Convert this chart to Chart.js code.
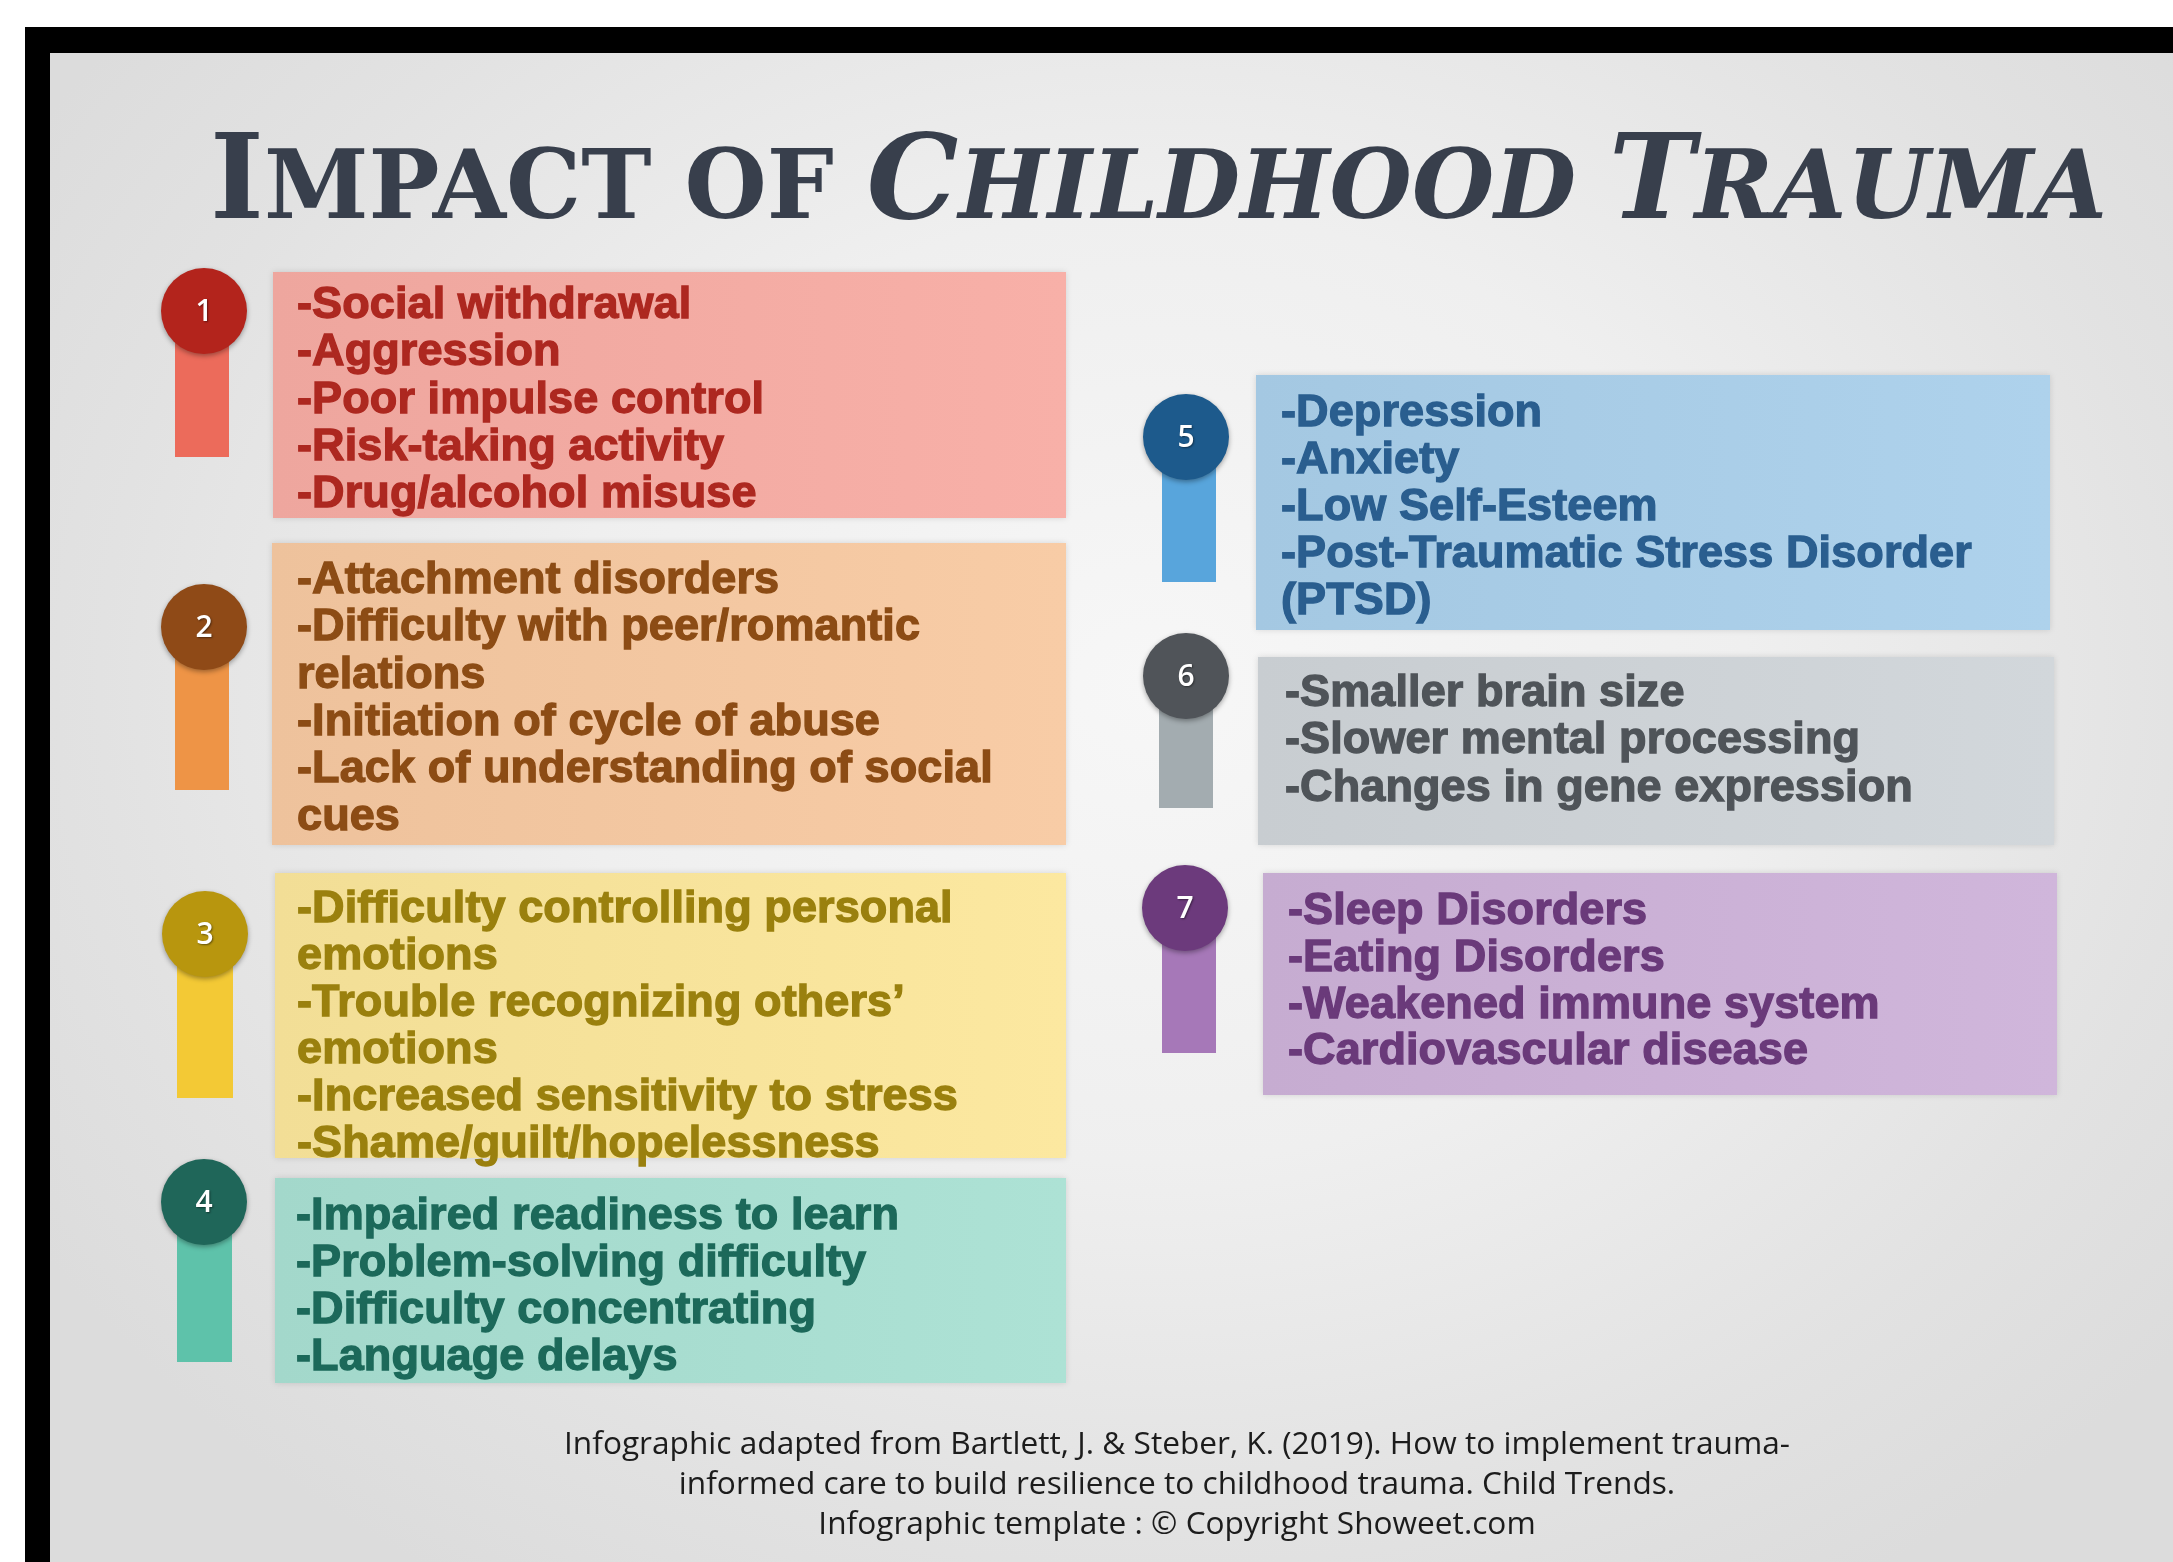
<!DOCTYPE html>
<html lang="en">
<head>
<meta charset="UTF-8">
<title>Impact of Childhood Trauma</title>
<script src="https://cdn.jsdelivr.net/npm/chart.js"></script>
<style>
  html, body { margin: 0; padding: 0; background: #fff; }
  #page { position: relative; width: 2173px; height: 1562px; overflow: hidden; background: #fff; }
  #frame { position: absolute; left: 25px; top: 27px; right: 0; bottom: 0; background: #000; }
  #sheet { position: absolute; left: 50px; top: 53px; right: 0; bottom: 0;
    background: radial-gradient(ellipse 62% 70% at 52% 42%, #f7f7f7 0%, #efefef 45%, #e2e2e2 80%, #dcdcdc 100%); }
  #board { position: absolute; left: 0; top: 0; }
  .txt { position: absolute; white-space: pre; }
  #title { font-family: "DejaVu Serif", serif; font-weight: bold; color: #383f4c;
    line-height: 117px; transform-origin: 0 0; }
  .items div { font-family: "Liberation Sans", Arial, sans-serif; font-weight: bold; font-size: 45px;
    letter-spacing: 0.1px; -webkit-text-stroke: 1.3px currentColor; }
  .num { font-family: "Open Sans", sans-serif; font-weight: 600; font-size: 30px; color: #fff;
    text-align: center; width: 90px; line-height: 40px; text-shadow: 1px 1px 2px rgba(0,0,0,0.45); }
  #footer div { font-family: "Open Sans", sans-serif; font-size: 31px; line-height: 40px; color: #1c1c1c;
    transform-origin: 50% 50%; text-align: center; }
</style>
</head>
<body>
<div id="page">
  <div id="frame"></div>
  <div id="sheet"></div>
  <canvas id="board" width="2173" height="1562"></canvas>
  <div id="title" class="txt"></div>
  <div id="footer" class="txt"></div>
</div>

<script>
  // ---- content ----
  const titleText = 'Impact of Childhood Trauma';
  const titleItalicFrom = 'Childhood';

  const groupNumbers = ['1', '2', '3', '4', '5', '6', '7'];

  const groupItems = [
    ['-Social withdrawal', '-Aggression', '-Poor impulse control', '-Risk-taking activity', '-Drug/alcohol misuse'],
    ['-Attachment disorders', '-Difficulty with peer/romantic', 'relations', '-Initiation of cycle of abuse',
     '-Lack of understanding of social', 'cues'],
    ['-Difficulty controlling personal', 'emotions', '-Trouble recognizing others\u2019', 'emotions',
     '-Increased sensitivity to stress', '-Shame/guilt/hopelessness'],
    ['-Impaired readiness to learn', '-Problem-solving difficulty', '-Difficulty concentrating', '-Language delays'],
    ['-Depression', '-Anxiety', '-Low Self-Esteem', '-Post-Traumatic Stress Disorder', '(PTSD)'],
    ['-Smaller brain size', '-Slower mental processing', '-Changes in gene expression'],
    ['-Sleep Disorders', '-Eating Disorders', '-Weakened immune system', '-Cardiovascular disease']
  ];

  const footerLines = [
    'Infographic adapted from Bartlett, J. & Steber, K. (2019). How to implement trauma-',
    'informed care to build resilience to childhood trauma. Child Trends.',
    'Infographic template : \u00A9 Copyright Showeet.com'
  ];

  // ---- palette ----
  const boxColors   = ['#f2aaa2', '#f2c6a0', '#f6e29a', '#a7dccf', '#a8cce6', '#ccd1d5', '#cab0d5'];
  const badgeColors = ['#b3241c', '#8f4a17', '#b8960e', '#1f6659', '#1d5a8c', '#505459', '#6c3a7c'];
  const stemColors  = ['#ec6b5b', '#ee9446', '#f3c935', '#5ec2aa', '#58a5dc', '#a3acb0', '#a678b8'];
  const textColors  = ['#ad2820', '#8c4c15', '#9a800e', '#1c695a', '#2a5e8f', '#4f5459', '#6a3a7a'];

  // ---- layout (page pixels) ----
  // box: [left, top, right, bottom]; pin: [cx, cy, stemLeft, stemRight, stemBottom]; text: [x, firstBaseline, lineStep]
  const boxRects = [
    [273, 272, 1066, 518], [272, 543, 1066, 845], [275, 873, 1066, 1158], [275, 1178, 1066, 1383],
    [1256, 375, 2050, 630], [1258, 657, 2054, 845], [1263, 873, 2057, 1095]
  ];
  const pinGeom = [
    [204, 311, 175, 229, 457], [204, 627, 175, 229, 790], [205, 934, 177, 233, 1098], [204, 1202, 177, 232, 1362],
    [1186, 437, 1162, 1216, 582], [1186, 676, 1159, 1213, 808], [1185, 908, 1162, 1216, 1053]
  ];
  const textPos = [
    [297, 318, 47.4], [297, 593, 47.4], [297, 922, 47.1], [296, 1229, 47.1],
    [1281, 426, 47.1], [1285, 706, 47.6], [1288, 925, 46.8]
  ];
  const badgeR = 43;

  function shade(hex, amt) {
    const n = parseInt(hex.slice(1), 16);
    const r = Math.min(255, Math.max(0, (n >> 16) + amt));
    const g = Math.min(255, Math.max(0, ((n >> 8) & 255) + amt));
    const b = Math.min(255, Math.max(0, (n & 255) + amt));
    return 'rgb(' + r + ',' + g + ',' + b + ')';
  }

  // draws the coloured cards and the numbered pins on the chart area
  const cardPlugin = {
    id: 'cards',
    afterDraw(chart) {
      const ctx = chart.ctx;
      const sx = chart.scales.x, sy = chart.scales.y;
      groupNumbers.forEach((n, i) => {
        const b = boxRects[i];
        const x0 = sx.getPixelForValue(b[0]), x1 = sx.getPixelForValue(b[2]);
        const y0 = sy.getPixelForValue(b[1]), y1 = sy.getPixelForValue(b[3]);
        ctx.save();
        ctx.shadowColor = 'rgba(0,0,0,0.12)';
        ctx.shadowBlur = 6;
        const grad = ctx.createLinearGradient(x0, 0, x1, 0);
        grad.addColorStop(0, shade(boxColors[i], -4));
        grad.addColorStop(1, shade(boxColors[i], 6));
        ctx.fillStyle = grad;
        ctx.fillRect(x0, y0, x1 - x0, y1 - y0);
        ctx.restore();

        const p = pinGeom[i];
        const cx = sx.getPixelForValue(p[0]), cy = sy.getPixelForValue(p[1]);
        const s0 = sx.getPixelForValue(p[2]), s1 = sx.getPixelForValue(p[3]);
        const sb = sy.getPixelForValue(p[4]);
        ctx.fillStyle = stemColors[i];
        ctx.fillRect(s0, cy, s1 - s0, sb - cy);

        ctx.save();
        ctx.shadowColor = 'rgba(0,0,0,0.35)';
        ctx.shadowBlur = 5;
        ctx.shadowOffsetY = 2;
        ctx.beginPath();
        ctx.arc(cx, cy, badgeR, 0, Math.PI * 2);
        ctx.fillStyle = badgeColors[i];
        ctx.fill();
        ctx.restore();
      });
    }
  };

  new Chart(document.getElementById('board'), {
    type: 'scatter',
    data: { datasets: [] },
    options: {
      responsive: false,
      animation: false,
      events: [],
      layout: { padding: 0 },
      plugins: { legend: { display: false }, tooltip: { enabled: false } },
      scales: {
        x: { type: 'linear', min: 0, max: 2173, display: false },
        y: { type: 'linear', min: 0, max: 1562, reverse: true, display: false }
      }
    },
    plugins: [cardPlugin]
  });

  // ---- text layers ----
  const page = document.getElementById('page');

  // title with hand-made small caps
  const title = document.getElementById('title');
  let italic = false;
  titleText.split(' ').forEach((word, wi) => {
    if (word === titleItalicFrom) italic = true;
    if (wi > 0) {
      const sp = document.createElement('span');
      sp.textContent = ' ';
      sp.style.fontSize = '96px';
      title.appendChild(sp);
    }
    for (const ch of word) {
      const s = document.createElement('span');
      const big = ch === ch.toUpperCase();
      s.textContent = ch.toUpperCase();
      s.style.fontSize = big ? '117px' : '96px';
      if (italic) s.style.fontStyle = 'italic';
      title.appendChild(s);
    }
  });
  title.style.left = '210px';
  title.style.top = (218 - 99) + 'px';
  const tw = title.getBoundingClientRect().width;
  title.style.transform = 'scaleX(' + (1897 / tw) + ')';

  // numbers and item lists
  groupNumbers.forEach((n, i) => {
    const p = pinGeom[i];
    const num = document.createElement('div');
    num.className = 'txt num';
    num.textContent = n;
    num.style.left = (p[0] - 45) + 'px';
    num.style.top = (p[1] - 21) + 'px';
    page.appendChild(num);

    const t = textPos[i];
    const box = document.createElement('div');
    box.className = 'txt items';
    box.style.left = t[0] + 'px';
    // baseline offset inside a line box of Liberation Sans 45px
    const half = (t[2] - 45 * 1.117) / 2;
    box.style.top = (t[1] - half - 45 * 0.905) + 'px';
    box.style.color = textColors[i];
    groupItems[i].forEach(line => {
      const d = document.createElement('div');
      d.textContent = line;
      d.style.lineHeight = t[2] + 'px';
      box.appendChild(d);
    });
    page.appendChild(box);
  });

  // footer
  const footer = document.getElementById('footer');
  footer.style.left = '0px';
  footer.style.width = '2354px';
  footer.style.top = (1454 - 32) + 'px';
  footerLines.forEach(line => {
    const d = document.createElement('div');
    d.textContent = line;
    footer.appendChild(d);
  });
  const probe = document.createElement('span');
  probe.style.cssText = 'font-family:"Open Sans",sans-serif;font-size:31px;white-space:pre;position:absolute;visibility:hidden';
  probe.textContent = footerLines[0];
  page.appendChild(probe);
  const fScale = 1226 / probe.getBoundingClientRect().width;
  page.removeChild(probe);
  footer.querySelectorAll('div').forEach(d => { d.style.transform = 'scaleX(' + fScale + ')'; });
</script>
</body>
</html>
